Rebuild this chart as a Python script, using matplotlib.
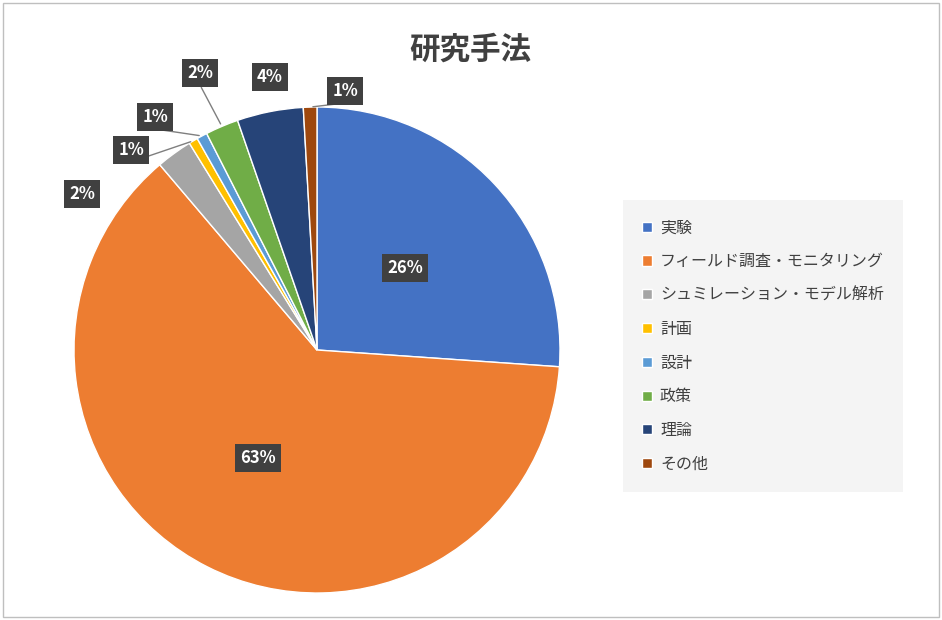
import numpy as np
import matplotlib
matplotlib.use("Agg")
import matplotlib.pyplot as plt
from matplotlib.patches import Rectangle

plt.rcParams["font.family"] = "Noto Sans CJK JP"

categories = ["実験", "フィールド調査・モニタリング", "シュミレーション・モデル解析",
              "計画", "設計", "政策", "理論", "その他"]
values = [26.1, 62.7, 2.4, 0.6, 0.7, 2.2, 4.4, 0.9]
colors = ["#4472C4", "#ED7D31", "#A5A5A5", "#FFC000", "#5B9BD5", "#70AD47", "#264478", "#9E480E"]
# label positions in pixel coords (x, y from top)
label_pos = [(405, 268), (258, 458), (82, 194), (131, 150), (155, 117), (200, 73), (270, 77), (345, 91)]
leader = [False, False, False, True, True, True, False, True]

W, H = 942, 620
fig = plt.figure(figsize=(W / 100, H / 100), dpi=100)
ax = fig.add_axes([0, 0, 1, 1])
cx, cy, r = 317, H - 350, 243
wedges, _ = ax.pie(values, colors=colors, startangle=90, counterclock=False,
                   center=(cx, cy), radius=r, frame=False,
                   wedgeprops=dict(edgecolor="white", linewidth=1))
ax.set_xlim(0, W)
ax.set_ylim(0, H)
ax.set_aspect("equal")
ax.axis("off")

# figure border
ax.add_patch(Rectangle((3, 3), W - 6, H - 6, fill=False, edgecolor="#bfbfbf", lw=1))

for w, v, (px, py), ld in zip(wedges, values, label_pos, leader):
    txt = "%d%%" % int(round(v))
    ly = H - py
    if ld:
        ang = np.deg2rad((w.theta1 + w.theta2) / 2)
        ex, ey = cx + r * np.cos(ang), cy + r * np.sin(ang)
        ax.annotate("", xy=(ex, ey), xytext=(px, ly - 12),
                    arrowprops=dict(arrowstyle="-", color="#7f7f7f", lw=1))
    ax.text(px, ly, txt, ha="center", va="center", color="white", fontsize=12,
            fontweight="bold",
            bbox=dict(boxstyle="square,pad=0.3", facecolor="#404040", edgecolor="none"))

ax.text(470, H - 50, "研究手法", ha="center", va="center", fontsize=22,
        fontweight="bold", color="#404040")

leg = ax.legend(wedges, categories, loc="upper left",
                bbox_to_anchor=(628 / W, 1 - 205 / H), bbox_transform=fig.transFigure,
                fontsize=11.5, frameon=True, labelspacing=1.05, handlelength=0.6,
                handleheight=0.6, handletextpad=0.5, borderpad=0.9, borderaxespad=0)
leg.get_frame().set_facecolor("#f2f2f2")
leg.get_frame().set_edgecolor("none")
leg.get_frame().set_boxstyle("square")
for t in leg.get_texts():
    t.set_color("#404040")

fig.savefig("out.png", dpi=100)
